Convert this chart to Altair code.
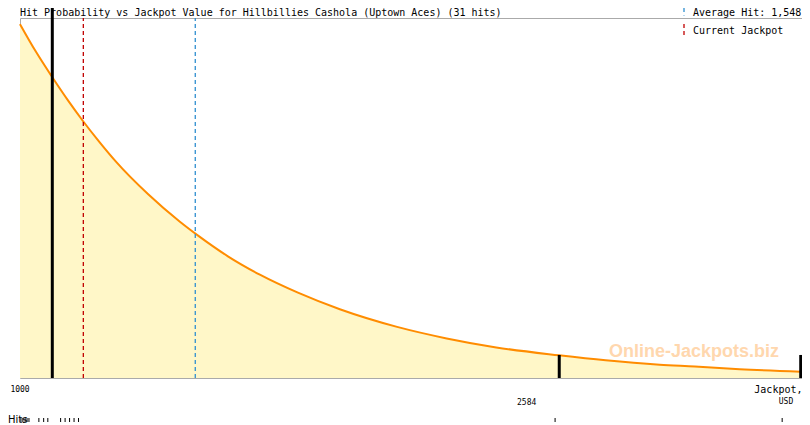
import altair as alt
import pandas as pd

# ---- data ----
curve_jackpot = [1000, 1050, 1099, 1150, 1195, 1248, 1300, 1400, 1500, 1559, 1650, 1750,
                 1869, 2000, 2179, 2334, 2489, 2685, 2831, 3000, 3110, 3250, 3442]
curve_prob = [0.983, 0.906, 0.838, 0.771, 0.716, 0.656, 0.601, 0.511, 0.434, 0.394, 0.338, 0.287,
              0.237, 0.191, 0.142, 0.110, 0.085, 0.063, 0.049, 0.037, 0.032, 0.0246, 0.0176]

tick_values = [1000, 1198, 1396, 1594, 1792, 1990, 2188, 2386, 2584, 2782, 2980, 3178, 3376]
label_row1 = [1000]
label_row2 = [2584]

current_jackpot = 1198
average_hit = 1548

marker_x = [1101, 2686, 3441]
marker_top = [1.03, 0.064, 0.064]

hit_values = [1003, 1009, 1016, 1022, 1028, 1059, 1074, 1087,
              1127, 1141, 1155, 1169, 1183, 2673, 3383]

title_text = "Hit Probability vs Jackpot Value for Hillbillies Cashola (Uptown Aces) (31 hits)"
avg_label = "Average Hit: 1,548"
cur_label = "Current Jackpot"

MONO = "DejaVu Sans Mono"
GRAY = "#aaaaaa"
RED = "#c00000"
BLUE = "#2f8fd0"

W, H = 782, 360

xscale = alt.Scale(domain=[1000, 3445], nice=False, zero=False)
yscale = alt.Scale(domain=[0, 1], nice=False, zero=False)

curve = pd.DataFrame({"jackpot": curve_jackpot, "prob": curve_prob})

area = alt.Chart(curve).mark_area(color="#fff7c8", interpolate="monotone").encode(
    x=alt.X("jackpot:Q", scale=xscale,
            axis=alt.Axis(values=tick_values, labels=False, title=None, tickColor=GRAY,
                          tickSize=6, domain=False, grid=False)),
    y=alt.Y("prob:Q", scale=yscale, axis=None),
)
line = alt.Chart(curve).mark_line(color="#ff8c00", strokeWidth=2, interpolate="monotone").encode(
    x=alt.X("jackpot:Q", scale=xscale, axis=None),
    y=alt.Y("prob:Q", scale=yscale, axis=None),
)

ref_df = pd.DataFrame({"v": [current_jackpot, average_hit], "c": [RED, BLUE],
                       "lo": [0, 0], "hi": [1, 1]})
dashed = alt.Chart(ref_df).mark_rule(strokeWidth=1.3, strokeDash=[4, 3]).encode(
    x=alt.X("v:Q", scale=xscale, axis=None),
    y=alt.Y("lo:Q", scale=yscale, axis=None),
    y2="hi:Q",
    color=alt.Color("c:N", scale=None),
)

mk = pd.DataFrame({"x": marker_x, "top": marker_top, "bot": [0, 0, 0]})
markers = alt.Chart(mk).mark_rule(color="black", strokeWidth=3).encode(
    x=alt.X("x:Q", scale=xscale, axis=None),
    y=alt.Y("bot:Q", scale=yscale, axis=None),
    y2="top:Q",
)

lab1 = alt.Chart(pd.DataFrame({"v": label_row1})).mark_text(
    font=MONO, fontSize=8, align="center", baseline="alphabetic", color="black").encode(
    x=alt.X("v:Q", scale=xscale, axis=None), y=alt.value(H + 14), text=alt.Text("v:Q", format="d"))
lab2 = alt.Chart(pd.DataFrame({"v": label_row2})).mark_text(
    font=MONO, fontSize=8, align="center", baseline="alphabetic", color="black").encode(
    x=alt.X("v:Q", scale=xscale, axis=None), y=alt.value(H + 27), text=alt.Text("v:Q", format="d"))

def txt(s, x, y, size=10, align="left", font=MONO, color="black", weight="normal"):
    return alt.Chart(pd.DataFrame({"t": [s]})).mark_text(
        font=font, fontSize=size, align=align, baseline="alphabetic", color=color,
        fontWeight=weight).encode(x=alt.value(x), y=alt.value(y), text="t:N")

ax_title1 = txt("Jackpot,", W + 0.5, H + 15, size=10, align="right")
ax_title2 = txt("USD", W - 16, H + 26, size=8, align="center")
title = txt(title_text, 0, -2.5)
avg_t = txt(avg_label, 673, -2.5)
cur_t = txt(cur_label, 673, 15.7)
hits_t = txt("Hits", -12, 405, size=10, font="DejaVu Sans")
water = txt("Online-Jackpots.biz", 589, 339, size=18, font="Liberation Sans",
            color="#ffd7ae", weight="bold")

leg_df = pd.DataFrame({"a": [0]})
leg_blue = alt.Chart(leg_df).mark_rule(color=BLUE, strokeWidth=1.3, strokeDash=[4, 3]).encode(
    x=alt.value(664), y=alt.value(-10), y2=alt.value(-2.5))
leg_red = alt.Chart(leg_df).mark_rule(color=RED, strokeWidth=1.3, strokeDash=[4, 3]).encode(
    x=alt.value(664), y=alt.value(6), y2=alt.value(18))

hits = alt.Chart(pd.DataFrame({"h": hit_values})).mark_rule(color="black", strokeWidth=1).encode(
    x=alt.X("h:Q", scale=xscale, axis=None), y=alt.value(400), y2=alt.value(404))

chart = alt.layer(
    area, line, dashed, markers, water, lab1, lab2, ax_title1, ax_title2,
    title, avg_t, cur_t, leg_blue, leg_red, hits, hits_t,
).properties(
    width=W, height=H,
    autosize=alt.AutoSizeParams(type="none"),
    padding={"left": 12, "top": 10, "right": 0, "bottom": 47},
).configure_view(stroke=GRAY, strokeWidth=1)

chart.save("out.html", embed_options={"renderer": "svg", "actions": False})
